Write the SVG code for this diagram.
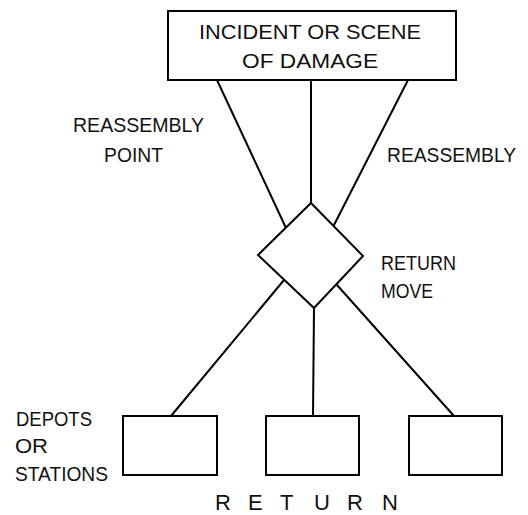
<svg xmlns="http://www.w3.org/2000/svg" width="528" height="515" viewBox="0 0 528 515">
  <style>
    .node { fill: #ffffff; stroke: #000000; stroke-width: 2; }
    .conn { fill: none; stroke: #000000; stroke-width: 2; stroke-linecap: round; }
    text { font-family: "Liberation Sans", Arial, sans-serif; font-size: 21px; fill: #111111; }
    .spaced { font-size: 22px; }
  </style>
  <rect width="528" height="515" fill="#ffffff"/>
  <g id="connectors">
    <line class="conn" x1="217" y1="80" x2="286" y2="228"/>
    <line class="conn" x1="311" y1="80" x2="311" y2="203"/>
    <line class="conn" x1="408" y1="80" x2="334" y2="225"/>
    <line class="conn" x1="284" y1="280" x2="171" y2="416"/>
    <line class="conn" x1="314" y1="308" x2="313" y2="416"/>
    <line class="conn" x1="337" y1="285" x2="454" y2="416"/>
  </g>
  <g id="incident">
    <rect class="node" x="168" y="11" width="288" height="69"/>
    <text x="199" y="39" textLength="222" lengthAdjust="spacingAndGlyphs">INCIDENT OR SCENE</text>
    <text x="242" y="68" textLength="136" lengthAdjust="spacingAndGlyphs">OF DAMAGE</text>
  </g>
  <g id="return-move">
    <polygon class="node" points="311,203 363,256 314,308 258,255"/>
  </g>
  <g id="depot-1">
    <rect class="node" x="123" y="416" width="94" height="59"/>
  </g>
  <g id="depot-2">
    <rect class="node" x="266" y="416" width="93" height="59"/>
  </g>
  <g id="depot-3">
    <rect class="node" x="409" y="416" width="93" height="59"/>
  </g>
  <g id="labels">
    <text x="73" y="132" textLength="131" lengthAdjust="spacingAndGlyphs">REASSEMBLY</text>
    <text x="104" y="162" textLength="59" lengthAdjust="spacingAndGlyphs">POINT</text>
    <text x="387" y="162" textLength="129" lengthAdjust="spacingAndGlyphs">REASSEMBLY</text>
    <text x="381" y="270" textLength="75" lengthAdjust="spacingAndGlyphs">RETURN</text>
    <text x="381" y="298" textLength="52" lengthAdjust="spacingAndGlyphs">MOVE</text>
    <text x="16" y="426" textLength="76" lengthAdjust="spacingAndGlyphs">DEPOTS</text>
    <text x="15" y="453" textLength="33" lengthAdjust="spacingAndGlyphs">OR</text>
    <text x="15" y="481" textLength="93" lengthAdjust="spacingAndGlyphs">STATIONS</text>
    <text class="spaced" x="215" y="510">R</text>
    <text class="spaced" x="248" y="510">E</text>
    <text class="spaced" x="280" y="510">T</text>
    <text class="spaced" x="314" y="510">U</text>
    <text class="spaced" x="347" y="510">R</text>
    <text class="spaced" x="382" y="510">N</text>
  </g>
</svg>
